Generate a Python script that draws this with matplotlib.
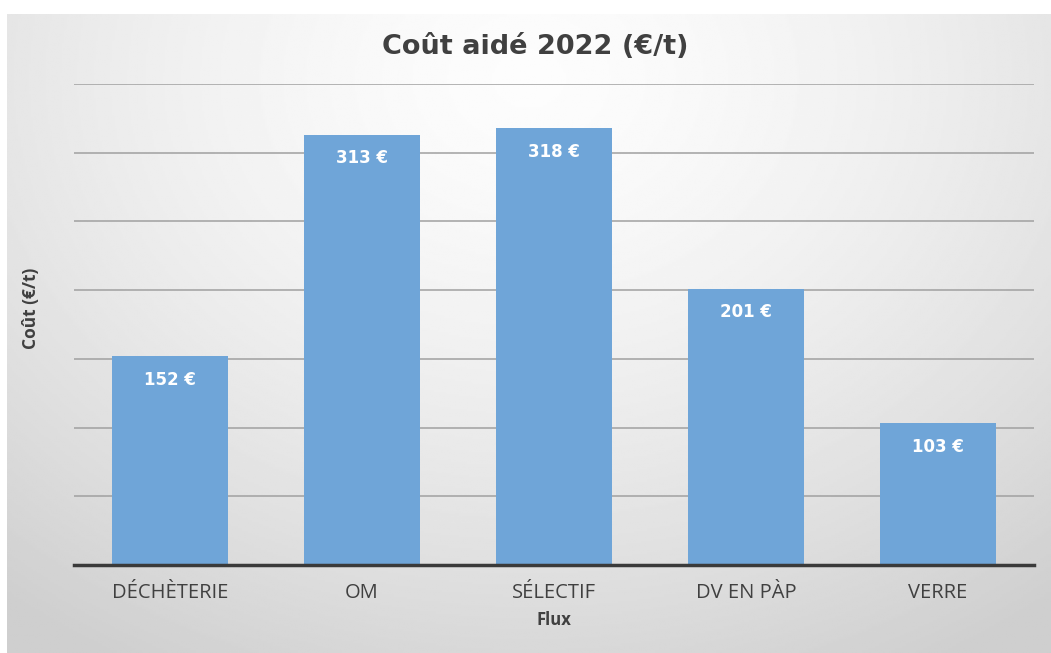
import numpy as np
import matplotlib.pyplot as plt

# data
categories = ["DÉCHÈTERIE", "OM", "SÉLECTIF", "DV EN PÀP", "VERRE"]
values = [152, 313, 318, 201, 103]
labels = ["152 €", "313 €", "318 €", "201 €", "103 €"]

fig = plt.figure(figsize=(10.51, 6.53), dpi=100)
fig.patch.set_facecolor("white")

# gradient background of the chart box
bg = fig.add_axes([7 / 1051, 0, 1 - 7 / 1051, 1 - 14 / 653], zorder=0)
yy, xx = np.mgrid[0:1:300j, 0:1:500j]
r = np.sqrt(((xx - 0.5) / 0.8) ** 2 + ((yy - 0.1) / 1.05) ** 2)
shade = 0.99 - 0.18 * np.clip(r, 0, 1) ** 1.5
bg.imshow(shade, cmap="gray", vmin=0, vmax=1, aspect="auto",
          extent=[0, 1, 0, 1], origin="upper")
bg.set_axis_off()

ax = fig.add_axes([74 / 1051, 1 - 565 / 653, 960 / 1051, 481 / 653], zorder=1)
ax.patch.set_alpha(0)

x = np.arange(len(categories))
ax.bar(x, values, width=0.6, color="#6fa5d8", zorder=2)

for xi, v, lab in zip(x, values, labels):
    ax.annotate(lab, (xi, v), xytext=(0, -17), textcoords="offset points",
                ha="center", va="center", color="white", fontsize=12,
                fontweight="bold", family="DejaVu Sans", zorder=3)

ax.set_xlim(-0.5, 4.5)
ax.set_ylim(0, 350)
ax.set_yticks(np.arange(50, 351, 50))
ax.yaxis.grid(True, color="#a0a0a0", linewidth=1.1)
ax.set_axisbelow(True)
ax.tick_params(axis="y", left=False, labelleft=False)
ax.tick_params(axis="x", length=0, pad=13, labelsize=14.5, labelcolor="#404040")
ax.set_xticks(x)
ax.set_xticklabels(categories, family=["Open Sans", "DejaVu Sans"])

for s in ["top", "right", "left"]:
    ax.spines[s].set_visible(False)
ax.spines["bottom"].set_color("#3a3a3a")
ax.spines["bottom"].set_linewidth(2.5)
ax.spines["bottom"].set_zorder(4)

ax.set_xlabel("Flux", fontsize=12, fontweight="bold", color="#404040",
              family=["Open Sans", "DejaVu Sans"], labelpad=6)
fig.text(31 / 1051, 1 - 308 / 653, "Coût (€/t)", rotation=90, ha="center",
         va="center", fontsize=12.5, fontweight="bold", color="#404040",
         family=["Open Sans", "DejaVu Sans"])
fig.text(535 / 1051, 1 - 47 / 653, "Coût aidé 2022 (€/t)", ha="center", va="center",
         fontsize=19.5, fontweight="bold", color="#404040", family="DejaVu Sans")

fig.savefig("out.png", dpi=100)
